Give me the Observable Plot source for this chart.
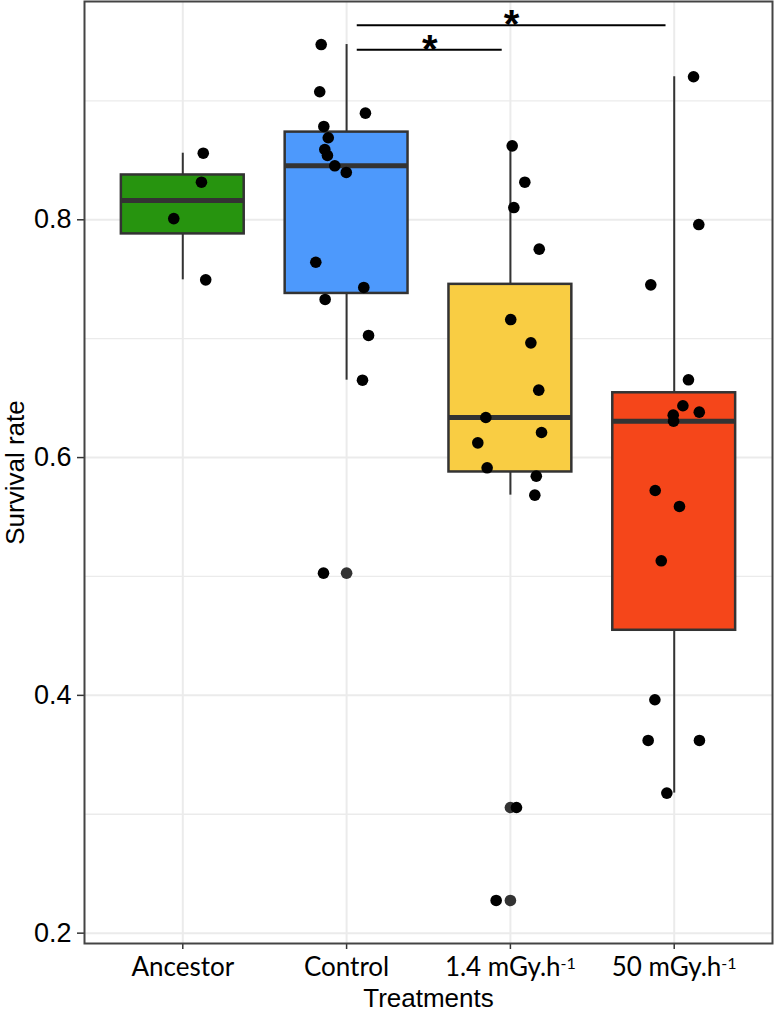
<!DOCTYPE html>
<html>
<head>
<meta charset="utf-8">
<script src="https://cdn.jsdelivr.net/npm/d3@7"></script>
<script src="https://cdn.jsdelivr.net/npm/@observablehq/plot@0.6"></script>
<style>
  html, body { margin: 0; padding: 0; background: #fff; }
  #chart svg { display: block; }
</style>
</head>
<body>
<div id="chart"></div>
<script>
// Treatment groups, in axis order ("^" marks a superscript in the label)
const groups = ["Ancestor", "Control", "1.4 mGy.h^-1", "50 mGy.h^-1"];
const groupColors = ["#27940f", "#4d99fc", "#f9cd43", "#f5461a"];

// Survival rate per replicate, with the horizontal jitter used for each dot
const ancestor       = [0.856, 0.8316, 0.801, 0.7495];
const ancestorJitter = [0.125, 0.114, -0.055, 0.140];

const control       = [0.9474, 0.9077, 0.8897, 0.8785, 0.869, 0.8591, 0.8541, 0.8454, 0.8398, 0.7643, 0.7431, 0.733, 0.7027, 0.6651, 0.5028];
const controlJitter = [-0.155, -0.164, 0.115, -0.139, -0.112, -0.133, -0.117, -0.072, -0.002, -0.188, 0.105, -0.131, 0.134, 0.097, -0.141];

const low       = [0.8622, 0.8316, 0.8103, 0.7753, 0.7161, 0.6965, 0.6567, 0.6337, 0.6211, 0.6124, 0.5914, 0.5844, 0.5684, 0.3057, 0.2275];
const lowJitter = [0.011, 0.088, 0.021, 0.176, 0.002, 0.125, 0.173, -0.150, 0.190, -0.199, -0.142, 0.158, 0.149, 0.037, -0.087];

const high       = [0.9203, 0.796, 0.7453, 0.6654, 0.6436, 0.6382, 0.6357, 0.6306, 0.5723, 0.5589, 0.5132, 0.3963, 0.3621, 0.3621, 0.3178];
const highJitter = [0.118, 0.150, -0.143, 0.087, 0.053, 0.153, -0.006, -0.004, -0.116, 0.032, -0.079, -0.118, -0.159, 0.154, -0.045];

// Pairwise comparisons flagged as significant
const compareFrom  = ["Control", "Control"];
const compareTo    = ["1.4 mGy.h^-1", "50 mGy.h^-1"];
const compareLevel = [0.943, 0.9637];
const compareLabel = ["*", "*"];

const yMajor = [0.2, 0.4, 0.6, 0.8];
const yMinor = [0.3, 0.5, 0.7, 0.9];

// ---- derived tables ----
const series = [ancestor, control, low, high];
const jitters = [ancestorJitter, controlJitter, lowJitter, highJitter];

const points = series.flatMap((vals, i) =>
  vals.map((v, j) => ({g: i + 1, name: groups[i], value: v, jitter: jitters[i][j]})));

// Tukey box statistics (quantile type 7, 1.5 IQR whiskers)
const stats = series.map((vals, i) => {
  const s = vals.slice().sort(d3.ascending);
  const q1 = d3.quantile(s, 0.25), median = d3.quantile(s, 0.5), q3 = d3.quantile(s, 0.75);
  const iqr = q3 - q1;
  const inside = s.filter(v => v >= q1 - 1.5 * iqr && v <= q3 + 1.5 * iqr);
  return {g: i + 1, name: groups[i], q1, median, q3, lo: d3.min(inside), hi: d3.max(inside),
          outliers: s.filter(v => v < q1 - 1.5 * iqr || v > q3 + 1.5 * iqr)};
});
const outliers = stats.flatMap(d => d.outliers.map(v => ({g: d.g, value: v})));

const comparisons = compareFrom.map((f, i) => ({
  x1: groups.indexOf(f) + 1 + 0.065,
  x2: groups.indexOf(compareTo[i]) + 1 - 0.05,
  y: compareLevel[i],
  label: compareLabel[i]
}));

const halfBox = 0.375;
const ink = "#333333";
const sans = "'Liberation Sans', Arial, sans-serif";

const chart = Plot.plot({
  width: 774,
  height: 1011,
  marginLeft: 84,
  marginRight: 2,
  marginTop: 1,
  marginBottom: 68,
  style: {background: "#fff", fontFamily: sans},
  x: {type: "linear", domain: [0.4, 4.6]},
  y: {domain: [0.1913, 0.9836]},
  color: {domain: groups, range: groupColors},
  marks: [
    Plot.gridY(yMinor, {stroke: "#ebebeb", strokeOpacity: 1, strokeWidth: 1.3}),
    Plot.gridY(yMajor, {stroke: "#ebebeb", strokeOpacity: 1, strokeWidth: 2}),
    Plot.gridX([1, 2, 3, 4], {stroke: "#ebebeb", strokeOpacity: 1, strokeWidth: 2}),
    // whiskers
    Plot.ruleX(stats, {x: "g", y1: "q3", y2: "hi", stroke: ink, strokeWidth: 2}),
    Plot.ruleX(stats, {x: "g", y1: "lo", y2: "q1", stroke: ink, strokeWidth: 2}),
    // boxes
    Plot.rect(stats, {x1: d => d.g - halfBox, x2: d => d.g + halfBox, y1: "q1", y2: "q3",
                      fill: "name", stroke: ink, strokeWidth: 2.5}),
    // medians
    Plot.ruleY(stats, {y: "median", x1: d => d.g - halfBox, x2: d => d.g + halfBox,
                       stroke: ink, strokeWidth: 5}),
    // outliers flagged by the box plot
    Plot.dot(outliers, {x: "g", y: "value", r: 5.8, fill: ink, stroke: null}),
    // every replicate, jittered
    Plot.dot(points, {x: d => d.g + d.jitter, y: "value", r: 5.8, fill: "#000", stroke: null}),
    // significance brackets
    Plot.ruleY(comparisons, {y: "y", x1: "x1", x2: "x2", stroke: "#000", strokeWidth: 2}),
    Plot.text(comparisons, {x: d => (d.x1 + d.x2) / 2, y: "y", text: "label", fontSize: 40,
                            fontWeight: "bold", lineAnchor: "bottom", dy: 13, fill: "#000",
                            fontFamily: sans}),
    // axes
    Plot.axisY(yMajor, {tickSize: 7, tickPadding: 6, fontSize: 27, stroke: ink, strokeWidth: 1.5,
                        tickFormat: d3.format(".1f"), label: null, fill: "#000"}),
    Plot.axisX([1, 2, 3, 4], {tickSize: 6, tickPadding: 8, fontSize: 26, stroke: ink, strokeWidth: 1.5,
                              fontFamily: "Lato, 'Open Sans', sans-serif",
                              tickFormat: i => groups[i - 1], label: null, fill: "#000"}),
    // axis titles
    Plot.text(["Survival rate"], {frameAnchor: "left", textAnchor: "middle", dx: -61, rotate: -90,
                                  lineAnchor: "bottom", fontSize: 26, fill: "#000", fontFamily: sans}),
    Plot.text(["Treatments"], {frameAnchor: "bottom", textAnchor: "middle", dy: 63, lineAnchor: "bottom",
                               fontSize: 26, fill: "#000", fontFamily: sans}),
    Plot.frame({stroke: "#444", strokeWidth: 2})
  ]
});

// Render "^" in tick labels as a superscript
d3.select(chart).selectAll('g[aria-label="x-axis tick label"] text').each(function () {
  const t = this.textContent;
  if (t.includes("^")) {
    const [base, sup] = t.split("^");
    this.textContent = base;
    d3.select(this).append("tspan").attr("dy", "-0.45em").attr("font-size", "0.62em").text(sup);
  }
});

document.getElementById("chart").appendChild(chart);
</script>
</body>
</html>
